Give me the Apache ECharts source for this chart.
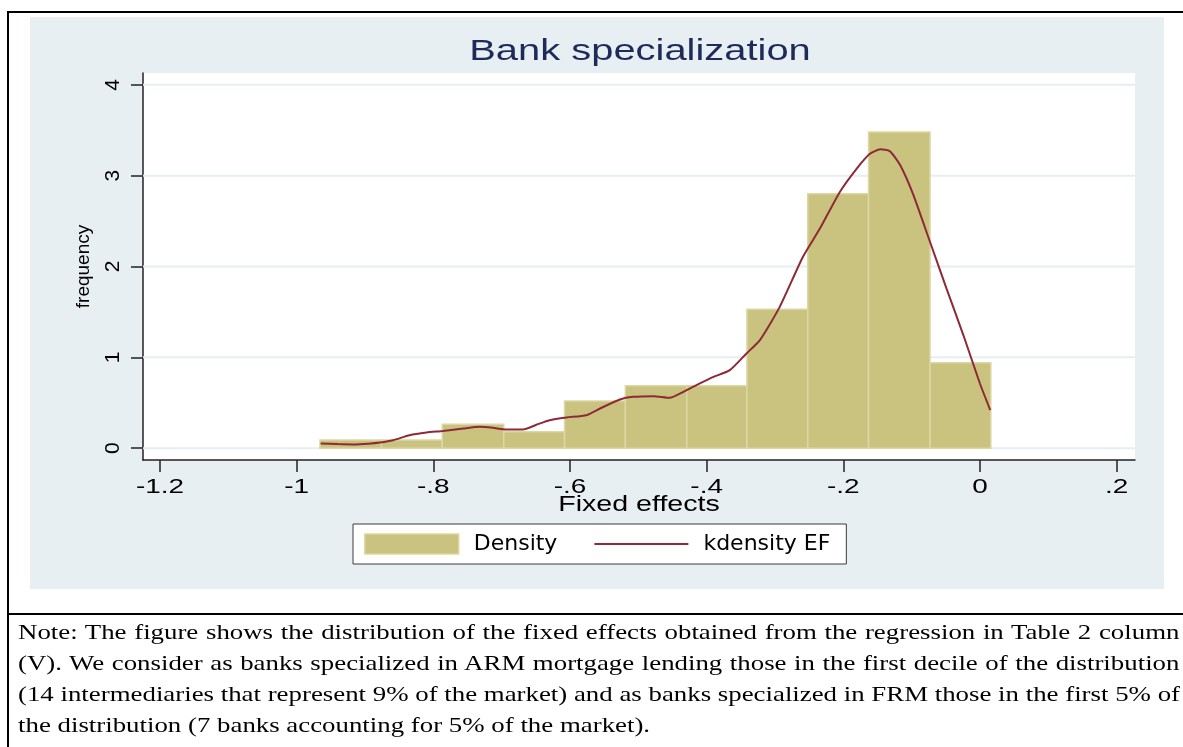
<!DOCTYPE html>
<html>
<head>
<meta charset="utf-8">
<title>Bank specialization</title>
<script src="https://cdn.jsdelivr.net/npm/echarts@6/dist/echarts.min.js"></script>
<style>
  html, body { margin: 0; padding: 0; background: #fff; }
  #page { position: relative; width: 1183px; height: 747px; overflow: hidden; }
  #frame { position: absolute; left: 7px; top: 11px; width: 1200px; height: 800px;
           border-left: 2px solid #000; border-top: 2px solid #000; box-sizing: border-box; }
  #divider { position: absolute; left: 7px; top: 613px; width: 1200px; height: 2px; background: #000; }
  #panel { position: absolute; left: 30px; top: 17px; width: 1134px; height: 572px; background: #e7eff2; }
  #chart { position: absolute; left: 0; top: 0; width: 1183px; height: 747px; }
  #note { position: absolute; left: 18px; top: 616px; width: 952px;
          transform: scaleX(1.22); transform-origin: 0 0;
          font-family: "Liberation Serif", "Times New Roman", serif; font-size: 22px;
          line-height: 31px; color: #000; }
  #note .j { text-align: justify; text-align-last: justify; white-space: nowrap; }
  #note .l { text-align: left; white-space: nowrap; }
</style>
</head>
<body>
<div id="page">
  <div id="panel"></div>
  <div id="frame"></div>
  <div id="divider"></div>
  <div id="chart"></div>
  <div id="note">
    <div class="j">Note: The figure shows the distribution of the fixed effects obtained from the regression in Table 2 column</div>
    <div class="j">(V). We consider as banks specialized in ARM mortgage lending those in the first decile of the distribution</div>
    <div class="j">(14 intermediaries that represent 9% of the market) and as banks specialized in FRM those in the first 5% of</div>
    <div class="l">the distribution (7 banks accounting for 5% of the market).</div>
  </div>
</div>
<script>
// Histogram bin edges (fixed effects) and bar heights (density)
const binEdges = [-0.966, -0.876, -0.787, -0.697, -0.608, -0.519, -0.429, -0.341, -0.252, -0.163, -0.073, 0.016];
const densityValues = [0.09, 0.09, 0.264, 0.18, 0.52, 0.686, 0.686, 1.53, 2.80, 3.48, 0.94];

// Kernel density estimate of the fixed effects
const kdensityX = [-0.965, -0.94, -0.917, -0.895, -0.878, -0.859, -0.835, -0.81, -0.786, -0.756,
                   -0.732, -0.713, -0.693, -0.669, -0.65, -0.63, -0.605, -0.576, -0.556, -0.527,
                   -0.508, -0.478, -0.454, -0.434, -0.415, -0.39, -0.366, -0.342, -0.322, -0.293,
                   -0.259, -0.234, -0.205, -0.18, -0.161, -0.146, -0.132, -0.117, -0.098, -0.073,
                   -0.049, -0.024, 0, 0.0152];
const kdensityY = [0.052, 0.045, 0.041, 0.05, 0.063, 0.088, 0.143, 0.173, 0.19, 0.217,
                   0.235, 0.224, 0.206, 0.206, 0.255, 0.308, 0.338, 0.363, 0.437, 0.536,
                   0.565, 0.573, 0.554, 0.62, 0.694, 0.785, 0.859, 1.04, 1.19, 1.556,
                   2.107, 2.42, 2.82, 3.08, 3.24, 3.29, 3.27, 3.12, 2.80, 2.27,
                   1.76, 1.24, 0.712, 0.418];

// Axis ticks
const xTicks = [-1.2, -1, -0.8, -0.6, -0.4, -0.2, 0, 0.2];
const yTicks = [0, 1, 2, 3, 4];

const xRange = [-1.225, 0.227];
const yRange = [-0.13, 4.13];

const barFill = '#cac380';
const barEdge = '#ddd7a3';
const curveColor = '#8c2a36';
const gridColor = '#e7eef2';
const sansFont = '"Liberation Sans", Arial, Helvetica, sans-serif';
const wideFont = '"DejaVu Sans", Verdana, sans-serif';
const wide = 1.33;   // horizontal stretch of the graph's sans-serif text

// Stata-style tick text: drop the leading zero ("-.8", ".2")
function stataNum(v) {
  const s = String(Math.round(v * 10) / 10);
  return s.replace(/^(-?)0\./, '$1.');
}

const bars = densityValues.map((h, i) => [binEdges[i], binEdges[i + 1], h]);
const curve = kdensityX.map((x, i) => [x, kdensityY[i]]);
const gridLines = yTicks.map(v => [v]);

const chart = echarts.init(document.getElementById('chart'), null, { renderer: 'canvas' });

chart.setOption({
  backgroundColor: 'transparent',
  animation: false,
  grid: {
    left: 143, top: 73, width: 992, height: 387,
    show: true, backgroundColor: '#ffffff', borderWidth: 0
  },
  legend: {
    left: 353, top: 524,
    orient: 'horizontal',
    backgroundColor: '#ffffff',
    borderColor: '#3a3a3a',
    borderWidth: 1,
    borderRadius: 0,
    padding: [9, 16, 9, 11],
    itemWidth: 94,
    itemHeight: 20,
    itemGap: 36,
    textStyle: { fontFamily: wideFont, fontSize: 22, color: '#000', padding: [0, 0, 0, 10] },
    data: [
      { name: 'Density', icon: 'rect', itemStyle: { color: barFill, borderColor: barEdge, borderWidth: 1.5 } },
      { name: 'kdensity EF', itemStyle: { opacity: 0 }, lineStyle: { color: curveColor, width: 2 } }
    ]
  },
  xAxis: {
    type: 'value',
    min: xRange[0], max: xRange[1],
    axisLine: { show: true, onZero: false, lineStyle: { color: '#222', width: 1.5 } },
    axisTick: { show: true, inside: false, length: 12, customValues: xTicks, lineStyle: { color: '#222', width: 1.5 } },
    axisLabel: { show: false },
    splitLine: { show: false }
  },
  yAxis: {
    type: 'value',
    min: yRange[0], max: yRange[1],
    name: 'frequency',
    nameLocation: 'middle',
    nameRotate: 90,
    nameGap: 50,
    nameTextStyle: { fontFamily: sansFont, fontSize: 19, color: '#000' },
    axisLine: { show: true, onZero: false, lineStyle: { color: '#222', width: 1.5 } },
    axisTick: { show: true, inside: false, length: 12, customValues: yTicks, lineStyle: { color: '#222', width: 1.5 } },
    axisLabel: { show: true, margin: 19, rotate: 90, customValues: yTicks, formatter: stataNum,
                 fontFamily: sansFont, fontSize: 21, color: '#000' },
    splitLine: { show: false }
  },
  series: [
    {
      // horizontal reference lines at each y tick
      name: 'gridlines',
      type: 'custom',
      silent: true,
      z: 1,
      data: gridLines,
      encode: { y: 0 },
      renderItem: function (params, api) {
        const y = api.value(0);
        const a = api.coord([xRange[0], y]);
        const b = api.coord([xRange[1], y]);
        return { type: 'line', shape: { x1: a[0], y1: a[1], x2: b[0], y2: b[1] },
                 style: { stroke: gridColor, lineWidth: 2 } };
      }
    },
    {
      name: 'Density',
      type: 'custom',
      z: 2,
      itemStyle: { color: barFill, borderColor: barEdge, borderWidth: 1.5 },
      data: bars,
      encode: { x: [0, 1], y: 2 },
      renderItem: function (params, api) {
        const top = api.coord([api.value(0), api.value(2)]);
        const base = api.coord([api.value(1), 0]);
        return {
          type: 'rect',
          shape: { x: top[0], y: top[1], width: base[0] - top[0], height: base[1] - top[1] },
          style: { fill: barFill, stroke: barEdge, lineWidth: 1.5 }
        };
      }
    },
    {
      name: 'kdensity EF',
      type: 'line',
      z: 3,
      data: curve,
      smooth: 0.2,
      symbol: 'none',
      lineStyle: { color: curveColor, width: 2 },
      itemStyle: { color: curveColor }
    }
  ]
});

// Title, x tick labels and x-axis title: wide sans text placed from the axis scale
const axisY = chart.convertToPixel({ yAxisIndex: 0 }, yRange[0]);
const plotLeft = chart.convertToPixel({ xAxisIndex: 0 }, xRange[0]);
const plotRight = chart.convertToPixel({ xAxisIndex: 0 }, xRange[1]);
const plotMid = (plotLeft + plotRight) / 2;

const texts = xTicks.map(v => ({
  type: 'text',
  x: chart.convertToPixel({ xAxisIndex: 0 }, v),
  y: axisY + 27,
  scaleX: wide,
  silent: true,
  style: { text: stataNum(v), font: '21px ' + sansFont, fill: '#000',
           textAlign: 'center', textVerticalAlign: 'middle' }
}));
texts.push({
  type: 'text', x: plotMid, y: axisY + 45, scaleX: 1.3, silent: true,
  style: { text: 'Fixed effects', font: '22px ' + sansFont, fill: '#000',
           textAlign: 'center', textVerticalAlign: 'middle' }
});
texts.push({
  type: 'text', x: plotMid + 1, y: 52, scaleX: wide, silent: true,
  style: { text: 'Bank specialization', font: '30px ' + sansFont, fill: '#1e2b5a',
           textAlign: 'center', textVerticalAlign: 'middle' }
});

chart.setOption({ graphic: { elements: texts } });
</script>
</body>
</html>
